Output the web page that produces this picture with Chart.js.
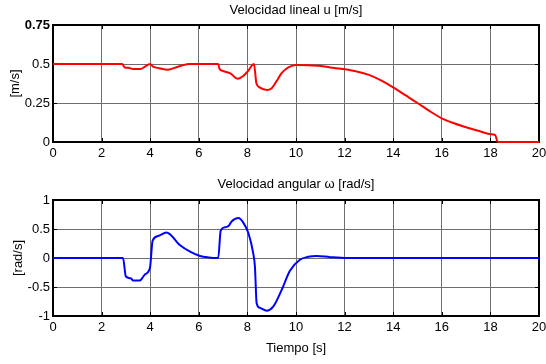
<!DOCTYPE html>
<html>
<head>
<meta charset="utf-8">
<script src="https://cdn.jsdelivr.net/npm/chart.js@4/dist/chart.umd.min.js"></script>
<style>
  body { margin: 0; background: #fff; }
  canvas { display: block; }
</style>
</head>
<body>
<canvas id="linear" width="546" height="170"></canvas>
<canvas id="angular" width="546" height="194"></canvas>
<script>
// time samples [s] and velocities
const uTime = [0, 2.85, 2.95, 3.1, 3.3, 3.6, 3.8, 4.0, 4.1, 4.3, 4.7, 5.0, 5.3, 5.6, 6.8, 6.85, 7.0, 7.3, 7.6, 7.8, 8.0, 8.27, 8.37, 8.5, 8.8, 9.0, 9.2, 9.4, 9.6, 9.8, 10.0, 10.5, 11, 11.4, 12, 12.5, 13, 13.5, 14, 14.5, 15, 15.5, 16, 16.5, 17, 17.5, 18, 18.2, 18.3, 20];
const uValues = [0.5, 0.5, 0.478, 0.476, 0.468, 0.468, 0.485, 0.5, 0.485, 0.475, 0.463, 0.475, 0.49, 0.5, 0.5, 0.47, 0.455, 0.44, 0.405, 0.42, 0.45, 0.5, 0.376, 0.35, 0.333, 0.345, 0.39, 0.44, 0.47, 0.486, 0.494, 0.492, 0.487, 0.478, 0.466, 0.452, 0.43, 0.395, 0.35, 0.30, 0.25, 0.198, 0.152, 0.12, 0.095, 0.072, 0.05, 0.044, 0, 0];

const wTime = [0, 2.88, 3.0, 3.2, 3.3, 3.56, 3.79, 3.99, 4.1, 4.33, 4.67, 5.23, 5.64, 6.05, 6.4, 6.8, 6.9, 7.08, 7.22, 7.35, 7.63, 7.83, 8.04, 8.24, 8.31, 8.38, 8.52, 8.79, 9.06, 9.41, 9.75, 10.16, 10.5, 10.85, 11.4, 12.1, 20];
const wValues = [0, 0, -0.32, -0.35, -0.39, -0.39, -0.28, -0.17, 0.30, 0.38, 0.44, 0.22, 0.11, 0.035, 0.01, 0, 0.47, 0.53, 0.55, 0.63, 0.69, 0.61, 0.43, 0.08, -0.15, -0.78, -0.86, -0.91, -0.84, -0.55, -0.22, -0.03, 0.02, 0.035, 0.015, 0, 0];

// axis ticks
const xTicks = [0, 2, 4, 6, 8, 10, 12, 14, 16, 18, 20];
const uTicks = [0, 0.25, 0.5, 0.75];
const wTicks = [-1, -0.5, 0, 0.5, 1];

const FONT = "'Liberation Sans', Arial, sans-serif";
const TICK_LEN = 4;

// black box round the plot area with inward tick marks, under the line
const frame = {
  id: 'frame',
  beforeDatasetsDraw(chart) {
    const { ctx, chartArea: a, scales } = chart;
    ctx.save();
    ctx.strokeStyle = '#000';
    ctx.lineWidth = 2;
    ctx.strokeRect(a.left, a.top, a.right - a.left, a.bottom - a.top);

    ctx.lineWidth = 1;
    ctx.beginPath();
    scales.x.ticks.forEach((t) => {
      const px = Math.round(scales.x.getPixelForValue(t.value)) + 0.5;
      ctx.moveTo(px, a.top); ctx.lineTo(px, a.top + TICK_LEN);
      ctx.moveTo(px, a.bottom); ctx.lineTo(px, a.bottom - TICK_LEN);
    });
    scales.y.ticks.forEach((t) => {
      const py = Math.round(scales.y.getPixelForValue(t.value)) + 0.5;
      ctx.moveTo(a.left, py); ctx.lineTo(a.left + TICK_LEN, py);
      ctx.moveTo(a.right, py); ctx.lineTo(a.right - TICK_LEN, py);
    });
    ctx.stroke();
    ctx.restore();
  }
};

const setTicks = (list) => (scale) => {
  scale.ticks = list.map((v) => ({ value: v }));
};

function makeChart(id, opts) {
  const points = opts.time.map((t, i) => ({ x: t, y: opts.values[i] }));
  return new Chart(document.getElementById(id), {
    type: 'line',
    data: {
      datasets: [{
        data: points,
        borderColor: opts.color,
        borderWidth: 2,
        pointRadius: 0,
        cubicInterpolationMode: 'monotone',
        fill: false,
        clip: 3,
      }],
    },
    options: {
      responsive: false,
      animation: false,
      events: [],
      layout: { padding: { left: 0, right: 7, top: 0, bottom: 0 } },
      plugins: {
        legend: { display: false },
        tooltip: { enabled: false },
        title: {
          display: true,
          text: opts.title,
          fullSize: false,
          color: '#000',
          font: { family: FONT, size: 13, weight: 'normal' },
          padding: opts.titlePad,
        },
      },
      scales: {
        x: {
          type: 'linear',
          min: xTicks[0],
          max: xTicks[xTicks.length - 1],
          afterBuildTicks: setTicks(xTicks),
          afterFit: (s) => {
            s.height = opts.xHeight;
            s.paddingLeft = 0;
            s.paddingRight = 0;
          },
          grid: { color: '#6e6e6e', drawTicks: false },
          border: { display: false },
          ticks: {
            padding: 4,
            color: '#000',
            font: { family: FONT, size: 13 },
            maxRotation: 0,
            autoSkip: false,
            callback: (v) => String(v),
          },
          title: {
            display: !!opts.xTitle,
            text: opts.xTitle || '',
            color: '#000',
            font: { family: FONT, size: 13 },
            padding: { top: 0, bottom: 8 },
          },
        },
        y: {
          min: opts.ticks[0],
          max: opts.ticks[opts.ticks.length - 1],
          afterBuildTicks: setTicks(opts.ticks),
          afterFit: (s) => {
            s.width = 53;
            s.paddingTop = 0;
            s.paddingBottom = 0;
          },
          grid: { color: '#6e6e6e', drawTicks: false },
          border: { display: false },
          ticks: {
            padding: 3,
            color: '#000',
            autoSkip: false,
            callback: (v) => String(v),
            font: (c) => ({
              family: FONT,
              size: 13,
              weight: c.tick && c.tick.value === opts.boldTick ? 'bold' : 'normal',
            }),
          },
          title: {
            display: true,
            text: opts.yTitle,
            color: '#000',
            font: { family: FONT, size: 13 },
            padding: { top: opts.yTitlePad, bottom: 0 },
          },
        },
      },
    },
    plugins: [frame],
  });
}

makeChart('linear', {
  time: uTime,
  values: uValues,
  color: '#ff0000',
  title: 'Velocidad lineal u [m/s]',
  titlePad: { top: 2.2, bottom: 7.2 },
  ticks: uTicks,
  boldTick: 0.75,
  yTitle: '[m/s]',
  yTitlePad: 8,
  xHeight: 28,
});

makeChart('angular', {
  time: wTime,
  values: wValues,
  color: '#0000ff',
  title: 'Velocidad angular ω [rad/s]',
  titlePad: { top: 6.2, bottom: 8.2 },
  ticks: wTicks,
  boldTick: null,
  yTitle: '[rad/s]',
  yTitlePad: 10.5,
  xHeight: 48,
  xTitle: 'Tiempo [s]',
});
</script>
</body>
</html>
